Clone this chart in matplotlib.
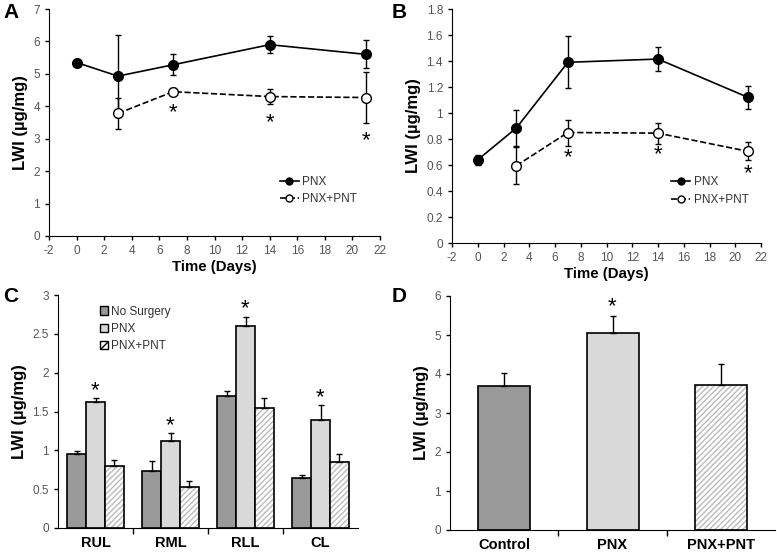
import matplotlib.pyplot as plt
import numpy as np
from matplotlib.lines import Line2D
from matplotlib.patches import Patch

plt.rcParams['font.family'] = ['Liberation Sans', 'DejaVu Sans']
plt.rcParams['axes.unicode_minus'] = False

# panel A
days = [0, 3, 7, 14, 21]
a_pnx = [5.35, 4.93, 5.28, 5.90, 5.60]
a_pnx_err = [0.05, 1.27, 0.33, 0.27, 0.43]
days_pnt = [3, 7, 14, 21]
a_pnt = [3.78, 4.45, 4.30, 4.27]
a_pnt_err = [0.48, 0.10, 0.23, 0.80]
a_star_y = [3.80, 3.50, 2.95]

# panel B
b_pnx = [0.64, 0.885, 1.39, 1.415, 1.12]
b_pnx_err = [0.04, 0.14, 0.20, 0.095, 0.09]
b_pnt = [0.595, 0.85, 0.845, 0.705]
b_pnt_err = [0.14, 0.10, 0.08, 0.07]
b_star_y = [0.66, 0.68, 0.53]
star_days = [7, 14, 21]

# panel C
lobes = ['RUL', 'RML', 'RLL', 'CL']
c_nosurg = [0.95, 0.73, 1.70, 0.64]
c_nosurg_err = [0.04, 0.13, 0.07, 0.04]
c_pnx = [1.62, 1.12, 2.60, 1.39]
c_pnx_err = [0.05, 0.10, 0.12, 0.19]
c_pnt = [0.80, 0.53, 1.55, 0.85]
c_pnt_err = [0.08, 0.07, 0.12, 0.10]

# panel D
groups = ['Control', 'PNX', 'PNX+PNT']
d_vals = [3.70, 5.05, 3.72]
d_err = [0.32, 0.45, 0.53]

DARK = '#999999'
LIGHT = '#d9d9d9'
TICKC = '#555555'

fig = plt.figure(figsize=(7.77, 5.53), dpi=100)
W, H = 777, 553


def box(l, r, t, b):
    return [l / W, 1 - b / H, (r - l) / W, (b - t) / H]


def style(ax):
    ax.spines['top'].set_visible(False)
    ax.spines['right'].set_visible(False)
    ax.tick_params(labelsize=8.5, labelcolor=TICKC, length=3, width=1)
    ax.set_ylabel('LWI (µg/mg)', fontsize=12, fontweight='bold')


def hbar(ax, x, h, w):
    ax.bar(x, h, w, color='white', hatch='//////', edgecolor='#bbbbbb', linewidth=0)
    ax.bar(x, h, w, color='none', edgecolor='black', linewidth=1.2)


def line_panel(ax, pnx, pnx_err, pnt, pnt_err, stars, ylim, yticks, ylabels, leg_xy):
    ax.errorbar(days, pnx, yerr=pnx_err, color='black', marker='o', ms=7,
                lw=1.2, capsize=2.5, elinewidth=1, label='PNX')
    ax.errorbar(days_pnt, pnt, yerr=pnt_err, color='black', marker='o', ms=7,
                mfc='white', ls='--', lw=1.2, capsize=2.5, elinewidth=1,
                label='PNX+PNT')
    for d, s in zip(star_days, stars):
        ax.text(d, s, '*', ha='center', va='center', fontsize=16)
    ax.set_xlim(-2, 22)
    ax.set_xticks(range(-2, 23, 2))
    ax.set_ylim(*ylim)
    ax.set_yticks(yticks)
    ax.set_yticklabels(ylabels)
    ax.set_xlabel('Time (Days)', fontsize=10.8, fontweight='bold', labelpad=2)
    h1 = Line2D([], [], color='black', marker='o', ms=5, lw=1.2)
    h2 = Line2D([], [], color='black', marker='o', ms=5, mfc='white', ls='--', lw=1.2)
    leg = ax.legend([h1, h2], ['PNX', 'PNX+PNT'], loc='upper left',
                    bbox_to_anchor=leg_xy, frameon=False, fontsize=8.5,
                    handlelength=1.6, handletextpad=0.3, borderpad=0,
                    labelspacing=0.45)
    for t in leg.get_texts():
        t.set_color('#333333')


# A
axA = fig.add_axes(box(49, 380, 9, 236))
style(axA)
line_panel(axA, a_pnx, a_pnx_err, a_pnt, a_pnt_err, a_star_y, (0, 7),
           range(8), [str(v) for v in range(8)], (0.68, 0.29))

# B
axB = fig.add_axes(box(452, 761, 9, 243))
style(axB)
bt = np.arange(0, 1.81, 0.2)
line_panel(axB, b_pnx, b_pnx_err, b_pnt, b_pnt_err, b_star_y, (0, 1.8),
           bt, ['0', '0.2', '0.4', '0.6', '0.8', '1', '1.2', '1.4', '1.6', '1.8'],
           (0.69, 0.31))

# C
axC = fig.add_axes(box(58, 358, 295, 528))
style(axC)
x = np.arange(len(lobes))
bw = 0.25
axC.bar(x - bw, c_nosurg, bw, color=DARK, edgecolor='black', linewidth=1.2)
axC.errorbar(x - bw, c_nosurg, yerr=[np.zeros(4), c_nosurg_err], fmt='none',
             ecolor='black', elinewidth=1, capsize=2)
axC.bar(x, c_pnx, bw, color=LIGHT, edgecolor='black', linewidth=1.2)
axC.errorbar(x, c_pnx, yerr=[np.zeros(4), c_pnx_err], fmt='none',
             ecolor='black', elinewidth=1, capsize=2)
hbar(axC, x + bw, c_pnt, bw)
axC.errorbar(x + bw, c_pnt, yerr=[np.zeros(4), c_pnt_err], fmt='none',
             ecolor='black', elinewidth=1, capsize=2)
for xi, v, e in zip(x, c_pnx, c_pnx_err):
    axC.text(xi, v + e + 0.1, '*', ha='center', va='center', fontsize=16)
axC.set_xlim(-0.5, 3.5)
axC.set_ylim(0, 3)
axC.set_yticks([0, 0.5, 1, 1.5, 2, 2.5, 3])
axC.set_yticklabels(['0', '0.5', '1', '1.5', '2', '2.5', '3'])
axC.set_xticks(x)
axC.set_xticklabels(lobes, fontsize=10.5, fontweight='bold', color='black')
axC.set_xticks([0.5, 1.5, 2.5], minor=True)
axC.tick_params(axis='x', which='major', length=0, pad=6)
axC.tick_params(axis='x', which='minor', length=4, width=1)
legC = axC.legend([Patch(fc=DARK, ec='black'), Patch(fc=LIGHT, ec='black'),
                   Patch(fc='white', ec='black', hatch='////')],
                  ['No Surgery', 'PNX', 'PNX+PNT'], loc='upper left',
                  bbox_to_anchor=(0.12, 0.98), frameon=False, fontsize=8.5,
                  handlelength=0.7, handleheight=0.7, handletextpad=0.2,
                  borderpad=0, labelspacing=0.45)
for t in legC.get_texts():
    t.set_color('#333333')

# D
axD = fig.add_axes(box(450, 775, 296, 530))
style(axD)
xd = np.arange(len(groups))
dw = 0.48
axD.bar(xd[0], d_vals[0], dw, color=DARK, edgecolor='black', linewidth=1.2)
axD.bar(xd[1], d_vals[1], dw, color=LIGHT, edgecolor='black', linewidth=1.2)
hbar(axD, xd[2], d_vals[2], dw)
axD.errorbar(xd, d_vals, yerr=[np.zeros(3), d_err], fmt='none', ecolor='black',
             elinewidth=1, capsize=2)
axD.text(xd[1], d_vals[1] + d_err[1] + 0.22, '*', ha='center', va='center', fontsize=16)
axD.set_xlim(-0.5, 2.5)
axD.set_ylim(0, 6)
axD.set_yticks(range(7))
axD.set_xticks(xd)
axD.set_xticklabels(groups, fontsize=10.5, fontweight='bold', color='black')
axD.set_xticks([0.5, 1.5], minor=True)
axD.tick_params(axis='x', which='major', length=0, pad=6)
axD.tick_params(axis='x', which='minor', length=4, width=1)

# panel letters
for lab, (px, py) in zip('ABCD', [(3, 3), (392, 3), (3, 287), (392, 287)]):
    fig.text(px / W, 1 - py / H, lab, fontsize=15, fontweight='bold', va='top', ha='left')

fig.savefig('out.png', dpi=100)
